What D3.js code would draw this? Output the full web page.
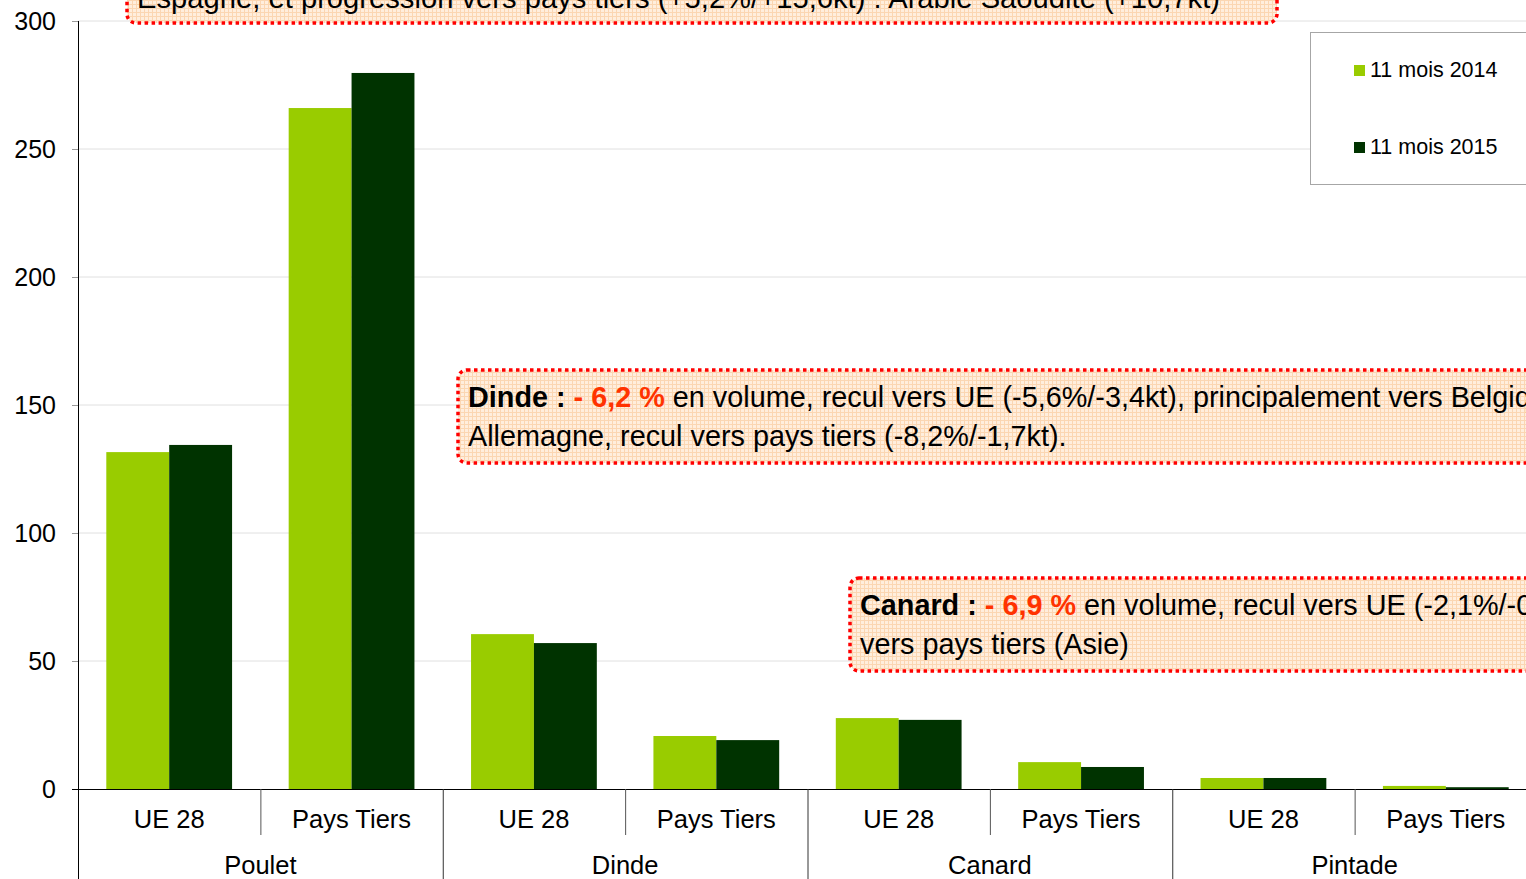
<!DOCTYPE html>
<html>
<head>
<meta charset="utf-8">
<script src="https://cdn.jsdelivr.net/npm/d3@7"></script>
<style>
  body { margin: 0; background: #fff; }
  svg { display: block; font-family: "Liberation Sans", Arial, sans-serif; }
</style>
</head>
<body>
<div id="chart"></div>
<script>
const groups = ['Poulet', 'Dinde', 'Canard', 'Pintade']
const markets = ['UE 28', 'Pays Tiers']
const seriesNames = ['11 mois 2014', '11 mois 2015']
const seriesColors = ['#99cc00', '#003300']
// one value per group x market, same order as groups then markets
const values2014 = [131.6, 266, 60.5, 20.7, 27.7, 10.5, 4.3, 1.2]
const values2015 = [134.4, 279.7, 57, 19.1, 27, 8.6, 4.3, 0.7]
const yTicks = [0, 50, 100, 150, 200, 250, 300]

const width = 1526
const height = 879
const margin = { left: 78, top: 21, bottom: 90 }
const plotRight = 1537
const baseY = height - margin.bottom

const rows = []
groups.forEach((g, gi) => {
  markets.forEach((m, mi) => {
    const i = gi * markets.length + mi
    rows.push({ group: g, market: m, values: [values2014[i], values2015[i]] })
  })
})

const svg = d3.select('#chart').append('svg')
  .attr('width', width)
  .attr('height', height)

const defs = svg.append('defs')
const pat = defs.append('pattern')
  .attr('id', 'grid')
  .attr('width', 4).attr('height', 4)
  .attr('patternUnits', 'userSpaceOnUse')
pat.append('rect').attr('width', 4).attr('height', 4).attr('fill', '#ffeedd')
pat.append('path').attr('d', 'M0,0.5H4M0.5,0V4')
  .attr('stroke', '#fbd6b2').attr('stroke-width', 1)

const y = d3.scaleLinear().domain([0, 300]).range([baseY, margin.top])

const xGroup = d3.scaleBand().domain(groups).range([margin.left, plotRight])
const xMarket = d3.scaleBand().domain(markets).range([0, xGroup.bandwidth()])
const xSeries = d3.scaleBand().domain(seriesNames)
  .range([0, xMarket.bandwidth()])
  .paddingInner(0).paddingOuter(0.45)

// gridlines
svg.append('g')
  .selectAll('line')
  .data(yTicks.filter(t => t > 0))
  .join('line')
  .attr('x1', margin.left).attr('x2', width)
  .attr('y1', d => y(d)).attr('y2', d => y(d))
  .attr('stroke', '#e0e0e0').attr('stroke-width', 1)

// bars
const barG = svg.append('g')
rows.forEach(r => {
  const x0 = xGroup(r.group) + xMarket(r.market)
  barG.selectAll(null)
    .data(r.values.map((v, i) => ({ v, i })))
    .join('rect')
    .attr('x', d => x0 + xSeries(seriesNames[d.i]))
    .attr('width', xSeries.bandwidth())
    .attr('y', d => y(d.v))
    .attr('height', d => baseY - y(d.v))
    .attr('fill', d => seriesColors[d.i])
})

// y axis
const yAxis = svg.append('g')
  .attr('transform', `translate(${margin.left},0)`)
  .call(d3.axisLeft(y).tickValues(yTicks).tickSize(6).tickPadding(16))
yAxis.select('.domain').remove()
yAxis.selectAll('.tick line').attr('stroke', '#999')
yAxis.selectAll('.tick text')
  .attr('font-size', 25)
  .attr('fill', '#000')
  .attr('font-family', '"Liberation Sans", Arial, sans-serif')

svg.append('line')
  .attr('x1', margin.left + 0.5).attr('x2', margin.left + 0.5)
  .attr('y1', margin.top).attr('y2', height)
  .attr('stroke', '#000')

// x axis baseline
svg.append('line')
  .attr('x1', margin.left - 6).attr('x2', width)
  .attr('y1', baseY + 0.5).attr('y2', baseY + 0.5)
  .attr('stroke', '#000')

// market separators and labels
rows.forEach((r, i) => {
  const x0 = xGroup(r.group) + xMarket(r.market)
  if (i % markets.length !== 0) {
    svg.append('line')
      .attr('x1', x0 + 0.5).attr('x2', x0 + 0.5)
      .attr('y1', baseY).attr('y2', baseY + 46)
      .attr('stroke', '#555')
  }
  svg.append('text')
    .attr('x', x0 + xMarket.bandwidth() / 2)
    .attr('y', baseY + 39)
    .attr('text-anchor', 'middle')
    .attr('font-size', 25.5)
    .text(r.market)
})

// group separators and labels
groups.forEach((g, i) => {
  if (i > 0) {
    svg.append('line')
      .attr('x1', xGroup(g) + 0.5).attr('x2', xGroup(g) + 0.5)
      .attr('y1', baseY).attr('y2', height)
      .attr('stroke', '#333')
  }
  svg.append('text')
    .attr('x', xGroup(g) + xGroup.bandwidth() / 2)
    .attr('y', baseY + 85)
    .attr('text-anchor', 'middle')
    .attr('font-size', 25.5)
    .text(g)
})

// legend
const legend = svg.append('g')
legend.append('rect')
  .attr('x', 1310.5).attr('y', 32.5)
  .attr('width', 240).attr('height', 152)
  .attr('fill', '#fff').attr('stroke', '#a6a6a6')
seriesNames.forEach((s, i) => {
  const ly = 65 + i * 77
  legend.append('rect')
    .attr('x', 1354).attr('y', ly).attr('width', 11).attr('height', 11)
    .attr('fill', seriesColors[i])
  legend.append('text')
    .attr('x', 1370).attr('y', ly + 12)
    .attr('font-size', 21.5)
    .text(s)
})

// annotation boxes
const notes = [
  { x: 127, y: -60, w: 1150, h: 83, size: 29.2,
    lines: [[{ t: 'Espagne, et progression vers pays tiers (+5,2%/+15,6kt) : Arabie Saoudite (+10,7kt)' }]],
    firstBaseline: 8 },
  { x: 458, y: 370, w: 1200, h: 93, size: 28.8,
    lines: [
      [{ t: 'Dinde : ', b: true }, { t: '- 6,2 %', b: true, c: '#ff3300' },
       { t: ' en volume, recul vers UE (-5,6%/-3,4kt), principalement vers Belgique et' }],
      [{ t: 'Allemagne, recul vers pays tiers (-8,2%/-1,7kt).' }]
    ],
    firstBaseline: 407 },
  { x: 850, y: 578, w: 900, h: 93, size: 28.8,
    lines: [
      [{ t: 'Canard : ', b: true }, { t: '- 6,9 %', b: true, c: '#ff3300' },
       { t: ' en volume, recul vers UE (-2,1%/-0,4kt) et' }],
      [{ t: 'vers pays tiers (Asie)' }]
    ],
    firstBaseline: 615 }
]

notes.forEach(n => {
  svg.append('rect')
    .attr('x', n.x).attr('y', n.y)
    .attr('width', n.w).attr('height', n.h)
    .attr('rx', 9)
    .attr('fill', 'url(#grid)')
    .attr('stroke', '#ff0000')
    .attr('stroke-width', 3.5)
    .attr('stroke-dasharray', '3.5,3.5')
  n.lines.forEach((line, li) => {
    const txt = svg.append('text')
      .attr('x', n.x + 10)
      .attr('y', n.firstBaseline + li * 39)
      .attr('font-size', n.size)
    line.forEach(seg => {
      txt.append('tspan')
        .attr('font-weight', seg.b ? 'bold' : null)
        .attr('fill', seg.c || '#000')
        .text(seg.t)
    })
  })
})
</script>
</body>
</html>
